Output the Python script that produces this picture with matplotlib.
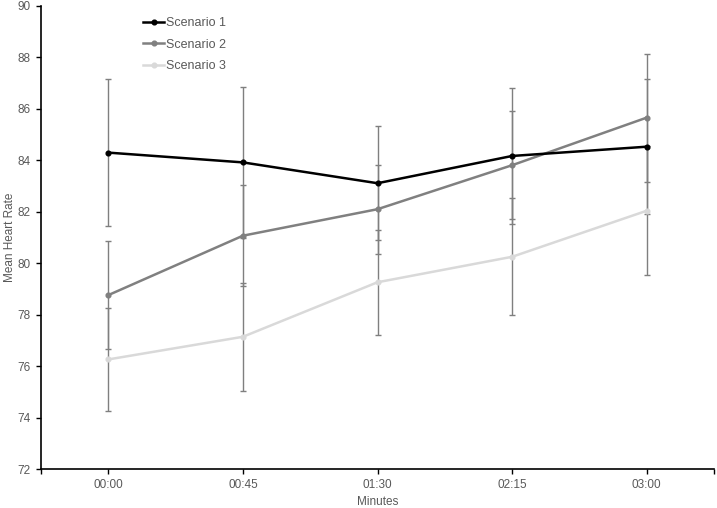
import matplotlib
matplotlib.use("Agg")
import matplotlib.pyplot as plt
import numpy as np

plt.rcParams['font.family'] = ['Liberation Sans', 'DejaVu Sans']

minutes = ["00:00", "00:45", "01:30", "02:15", "03:00"]

scenario1 = [84.30, 83.92, 83.11, 84.17, 84.53]
scenario1_err = [2.85, 2.93, 2.22, 2.66, 2.62]

scenario2 = [78.76, 81.07, 82.10, 83.81, 85.66]
scenario2_err = [2.10, 1.97, 1.73, 2.09, 2.49]

scenario3 = [76.26, 77.14, 79.26, 80.25, 82.04]
scenario3_err = [2.00, 2.10, 2.05, 2.28, 2.50]

series = [("Scenario 1", scenario1, scenario1_err, "#000000"),
          ("Scenario 2", scenario2, scenario2_err, "#808080"),
          ("Scenario 3", scenario3, scenario3_err, "#d9d9d9")]

text_col = "#595959"

fig = plt.figure(figsize=(7.17, 5.08), dpi=100)
ax = fig.add_axes([41/717, 1 - 469/508, 673/717, 463/508])

x = np.arange(len(minutes))
for name, vals, err, col in series:
    ax.errorbar(x, vals, yerr=err, fmt='none', ecolor="#7f7f7f",
                elinewidth=1.0, capsize=2.5, capthick=1.0, zorder=2)
for i, (name, vals, err, col) in enumerate(series):
    ax.plot(x, vals, color=col, linewidth=1.8, marker='o', markersize=3.4,
            label=name, zorder=5 - i)

ax.set_xlim(-0.5, 4.5)
ax.set_ylim(72, 90)
ax.set_yticks(np.arange(72, 91, 2))
ax.set_xticks(x)
ax.set_xticklabels(minutes)
ax.set_xticks([-0.5, 4.5], minor=True)
ax.tick_params(axis='both', which='both', direction='out', length=3.5,
               width=1, colors='black', labelcolor=text_col, labelsize=8.5)
ax.tick_params(axis='x', pad=4)
ax.tick_params(axis='y', pad=4)

for side in ['top', 'right']:
    ax.spines[side].set_visible(False)
for side in ['left', 'bottom']:
    ax.spines[side].set_linewidth(1.2)

ax.set_xlabel("Minutes", color=text_col, fontsize=8.5, labelpad=3)
ax.set_ylabel("Mean Heart Rate", color=text_col, fontsize=8.5, labelpad=1)

leg = ax.legend(loc='upper left', bbox_to_anchor=(0.135, 1.0), frameon=False,
                fontsize=9, handlelength=1.7, handletextpad=0.15,
                labelspacing=0.75, labelcolor=text_col)

fig.savefig("out.png", dpi=100)
